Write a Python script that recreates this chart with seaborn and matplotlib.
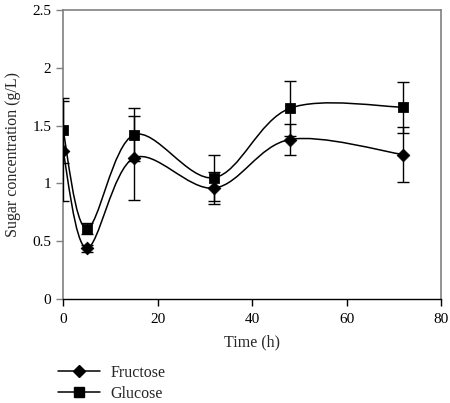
import numpy as np
import pandas as pd
import matplotlib
matplotlib.use("Agg")
import matplotlib.pyplot as plt
import seaborn as sns
from matplotlib.path import Path
from matplotlib.patches import PathPatch
from matplotlib.lines import Line2D

time_h = [0, 5, 15, 32, 48, 72]
fructose = [1.28, 0.44, 1.22, 0.96, 1.38, 1.25]
fructose_err = [0.43, 0.03, 0.36, 0.14, 0.13, 0.24]
glucose = [1.46, 0.61, 1.42, 1.05, 1.65, 1.66]
glucose_err = [0.28, 0.05, 0.23, 0.20, 0.24, 0.22]

series = {"Fructose": (fructose, fructose_err, "D", 6.5),
          "Glucose": (glucose, glucose_err, "s", 7)}

sns.set_theme(style="white")
plt.rcParams['font.family'] = ['Liberation Serif', 'DejaVu Serif']


def smooth_path(x, y):
    # excel-style smoothed line: cubic bezier segments through the points
    pts = np.column_stack([x, y]).astype(float)
    n = len(pts)
    verts = [pts[0]]
    codes = [Path.MOVETO]
    for i in range(n - 1):
        p0 = pts[i - 1] if i > 0 else pts[i]
        p1, p2 = pts[i], pts[i + 1]
        p3 = pts[i + 2] if i + 2 < n else pts[i + 1]
        c1 = p1 + (p2 - p0) / 6
        c2 = p2 - (p3 - p1) / 6
        verts += [c1, c2, p2]
        codes += [Path.CURVE4] * 3
    return Path(verts, codes)


fig = plt.figure(figsize=(4.5, 4.03), dpi=100)
ax = fig.add_axes([0.14, 0.258, 0.84, 0.717])

handles = []
for name, (vals, err, mk, ms) in series.items():
    df = pd.DataFrame({"Time": time_h, "Conc": vals})
    ax.add_patch(PathPatch(smooth_path(time_h, vals), fill=False, lw=1.1,
                           edgecolor="black", zorder=2))
    ax.errorbar(time_h, vals, yerr=err, fmt="none", ecolor="black",
                elinewidth=1, capsize=4, capthick=1, zorder=3)
    sns.scatterplot(data=df, x="Time", y="Conc", marker=mk, s=ms ** 2,
                    color="black", edgecolor="black", ax=ax, zorder=4)
    handles.append(Line2D([], [], color="black", lw=1.1, marker=mk,
                          markersize=ms, label=name))

ax.set_xlim(0, 80)
ax.set_ylim(0, 2.5)
ax.set_xticks([0, 20, 40, 60, 80])
ax.set_yticks([0, 0.5, 1, 1.5, 2, 2.5])
ax.set_yticklabels(["0", "0.5", "1", "1.5", "2", "2.5"])
ax.set_xlabel("Time (h)", fontsize=11.5, labelpad=6)
ax.set_ylabel("Sugar concentration (g/L)", fontsize=11.5, labelpad=8)
ax.tick_params(axis="both", direction="out", length=5, width=1,
               labelsize=11, bottom=True, left=True, colors="black")
ax.tick_params(axis="x", pad=5)
ax.tick_params(axis="y", color="#808080")

for s in ["top", "right", "left"]:
    ax.spines[s].set_color("#808080")
    ax.spines[s].set_linewidth(1.2)
ax.spines["bottom"].set_color("black")
ax.spines["bottom"].set_linewidth(1)

fig.legend(handles=handles, loc="upper left", bbox_to_anchor=(0.115, 0.11),
           frameon=False, fontsize=11.5, handlelength=2.6, labelspacing=0.3,
           borderaxespad=0, handletextpad=0.7)

fig.savefig("out.png", dpi=100, facecolor="white")
